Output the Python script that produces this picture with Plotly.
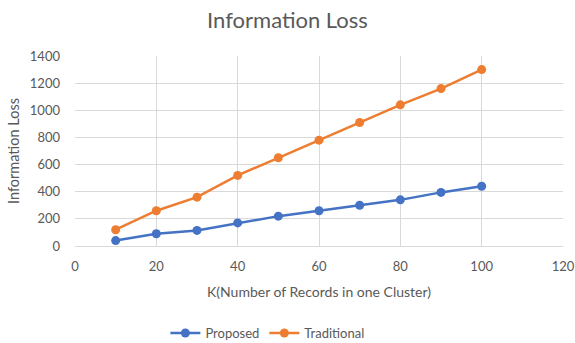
import plotly.graph_objects as go

k_values = [10, 20, 30, 40, 50, 60, 70, 80, 90, 100]
proposed = [40, 90, 115, 170, 220, 260, 300, 340, 395, 440]
traditional = [120, 260, 360, 520, 650, 780, 910, 1040, 1160, 1300]

fig = go.Figure()
fig.add_trace(go.Scatter(x=k_values, y=proposed, name="Proposed", mode="lines+markers",
                         line=dict(color="#4472C4", width=2.5), marker=dict(size=9, color="#4472C4")))
fig.add_trace(go.Scatter(x=k_values, y=traditional, name="Traditional", mode="lines+markers",
                         line=dict(color="#ED7D31", width=2.5), marker=dict(size=9, color="#ED7D31")))

W, H = 575, 343
font_family = "Lato, Open Sans, sans-serif"
fig.update_layout(
    width=W, height=H,
    margin=dict(l=75, r=12, t=56, b=97, autoexpand=False),
    paper_bgcolor="white", plot_bgcolor="white",
    font=dict(family=font_family, color="#595959", size=13),
    title=dict(text="Information Loss", x=0.5, xanchor="center", xref="container",
               y=1 - 20 / H, yref="container", yanchor="middle",
               font=dict(size=22, color="#595959")),
    xaxis=dict(range=[0, 120], dtick=20, showgrid=True, gridcolor="#D9D9D9", gridwidth=1,
               zeroline=False, showline=True, linecolor="#D9D9D9", ticks="",
               ticklabelstandoff=8, automargin=False, ticklabeloverflow="allow",
               title=dict(text="K(Number of Records in one Cluster)", font=dict(size=14), standoff=14),
               tickfont=dict(size=13)),
    yaxis=dict(range=[0, 1400], dtick=200, showgrid=True, gridcolor="#D9D9D9", gridwidth=1,
               zeroline=False, showline=False, ticks="",
               ticklabelstandoff=14, automargin=False,
               title=dict(text="Information Loss", font=dict(size=14.5), standoff=6),
               tickfont=dict(size=13)),
    legend=dict(orientation="h", x=0.465, xanchor="center", xref="container",
                y=10 / H, yref="container", yanchor="middle",
                font=dict(size=13)),
)

fig.write_html("out.html", config={"displayModeBar": False},
               post_script="document.body.style.margin='0';document.body.style.overflow='hidden';")
